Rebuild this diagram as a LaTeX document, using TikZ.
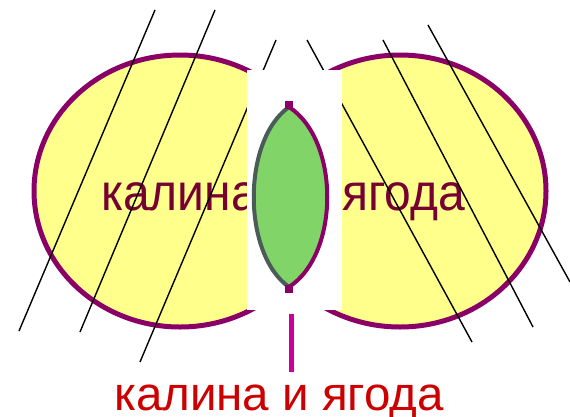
\documentclass[tikz,border=0pt]{standalone}
\usepackage{fontspec}
\setmainfont{Liberation Sans}
\definecolor{ellfill}{HTML}{FFFF8C}
\definecolor{ellline}{HTML}{8B0066}
\definecolor{txtdark}{HTML}{770033}
\definecolor{txtred}{HTML}{CC0000}
\definecolor{lensfill}{HTML}{80D468}
\definecolor{lensgray}{HTML}{4A5C58}
\definecolor{tickcol}{HTML}{CC0099}
\begin{document}
\begin{tikzpicture}[x=1pt,y=-1pt,
  ell/.style={fill=ellfill,draw=ellline,line width=5pt},
  hatch/.style={black,line width=1.4pt},
  toptxt/.style={inner sep=0pt,font=\fontsize{48}{52}\selectfont,text=txtdark},
  bottxt/.style={inner sep=0pt,font=\fontsize{47.5}{52}\selectfont,text=txtred}]
\useasboundingbox (0,0) rectangle (570,416);
\fill[white] (0,0) rectangle (570,416);
\draw[ell] (180,191) ellipse [x radius=146, y radius=136];
\draw[ell] (400,191) ellipse [x radius=146, y radius=136];
\node[toptxt,anchor=base west] (kalina) at (101,210) {\scalebox{1}[1.08]{калина}};
\node[toptxt,anchor=base west] (yagoda) at (342,210) {\scalebox{1}[1.08]{ягода}};
\draw[hatch] (155,10) -- (19,331);
\draw[hatch] (215,10) -- (80,332);
\draw[hatch] (276,40) -- (140,362);
\draw[hatch] (307,40) -- (472,342);
\draw[hatch] (383,40) -- (533,327);
\draw[hatch] (428,25) -- (570,282);
\fill[white] (247,70) rectangle (342,310);
\fill[lensfill] (289,107) .. controls (242,140) and (242,254) .. (289,287) .. controls (340,254) and (340,140) .. (289,107);
\draw[lensgray,line width=4pt] (289,107) .. controls (242,140) and (242,254) .. (289,287);
\draw[ellline,line width=4pt] (289,287) .. controls (340,254) and (340,140) .. (289,107);
\fill[ellline] (285,101) rectangle (293,109);
\fill[ellline] (285,285) rectangle (293,293);
\coordinate (tickTop) at (291,314);
\coordinate (tickBot) at (291,372);
\draw[tickcol,line width=5pt] (tickTop) -- (tickBot);
\node[bottxt,anchor=base west] (both) at (114,410) {калина и ягода};
\end{tikzpicture}
\end{document}
